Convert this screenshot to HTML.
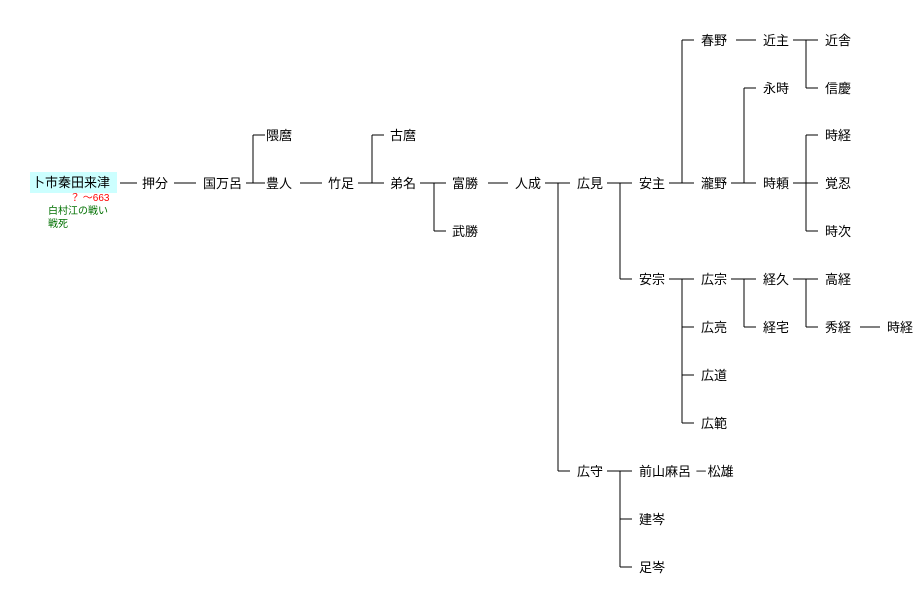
<!DOCTYPE html>
<html><head><meta charset="utf-8"><style>
body{margin:0;width:922px;height:599px;background:#fff;position:relative;overflow:hidden;font-family:"Liberation Sans","Noto Sans CJK JP",sans-serif;}
.t{position:absolute;font-size:13px;line-height:16px;color:#000;white-space:nowrap}
svg{position:absolute;left:0;top:0}
</style></head><body>
<svg width="922" height="599" id="s"></svg>
<div class="t" style="left:30px;top:172px;width:87px;height:21px;background:#ccffff;line-height:21px;padding-left:2px;box-sizing:border-box">卜市秦田来津</div>
<div class="t" style="left:70px;top:193px;font-size:10px;line-height:12px;color:#f00">？ ～663</div>
<div class="t" style="left:48px;top:206px;font-size:10px;line-height:12px;color:#007000">白村江の戦い</div>
<div class="t" style="left:48px;top:219px;font-size:10px;line-height:12px;color:#007000">戦死</div>
<div id="c"></div>
<script>
var N=[["押分",142,183],["国万呂",203,183],["隈麿",266,135],["豊人",266,183],["竹足",328,183],["古麿",390,135],["弟名",390,183],["富勝",452,183],["武勝",452,231],["人成",515,183],["広見",577,183],["広守",577,471],["安主",639,183],["安宗",639,279],["前山麻呂 －松雄",639,471],["建岑",639,519],["足岑",639,567],["春野",701,40],["瀧野",701,183],["広宗",701,279],["広亮",701,327],["広道",701,375],["広範",701,423],["近主",763,40],["永時",763,88],["時頼",763,183],["経久",763,279],["経宅",763,327],["近舎",825,40],["信慶",825,88],["時経",825,135],["覚忍",825,183],["時次",825,231],["高経",825,279],["秀経",825,327],["時経",887,327]];
var h="";N.forEach(function(n){h+='<div class="t" style="left:'+n[1]+'px;top:'+(n[2]-7)+'px">'+n[0]+'</div>';});
document.getElementById("c").innerHTML=h;
var L="";function l(a,b,c,d){L+='<line x1="'+a+'" y1="'+b+'" x2="'+c+'" y2="'+d+'" stroke="#000" stroke-width="1" shape-rendering="crispEdges"/>';}
l(120,183,137,183);l(174,183,196,183);l(300,183,322,183);l(488,183,508,183);l(736,40,756,40);l(860,327,880,327);
var G=[[246,183,253,[135,183]],[358,183,372,[135,183]],[420,183,434,[183,231]],[545,183,558,[183,471]],[607,183,620,[183,279]],[607,471,620,[471,519,567]],[669,183,682,[40,183]],[669,279,682,[279,327,375,423]],[731,183,744,[88,183]],[731,279,744,[279,327]],[793,40,806,[40,88]],[793,183,806,[135,183,231]],[793,279,806,[279,327]]];
G.forEach(function(g){l(g[0],g[1],g[2],g[1]);var r=g[3];l(g[2],Math.min.apply(0,r.concat([g[1]])),g[2],Math.max.apply(0,r.concat([g[1]])));r.forEach(function(y){l(g[2],y,g[2]+12,y);});});
document.getElementById("s").innerHTML=L;
</script>
</body></html>
